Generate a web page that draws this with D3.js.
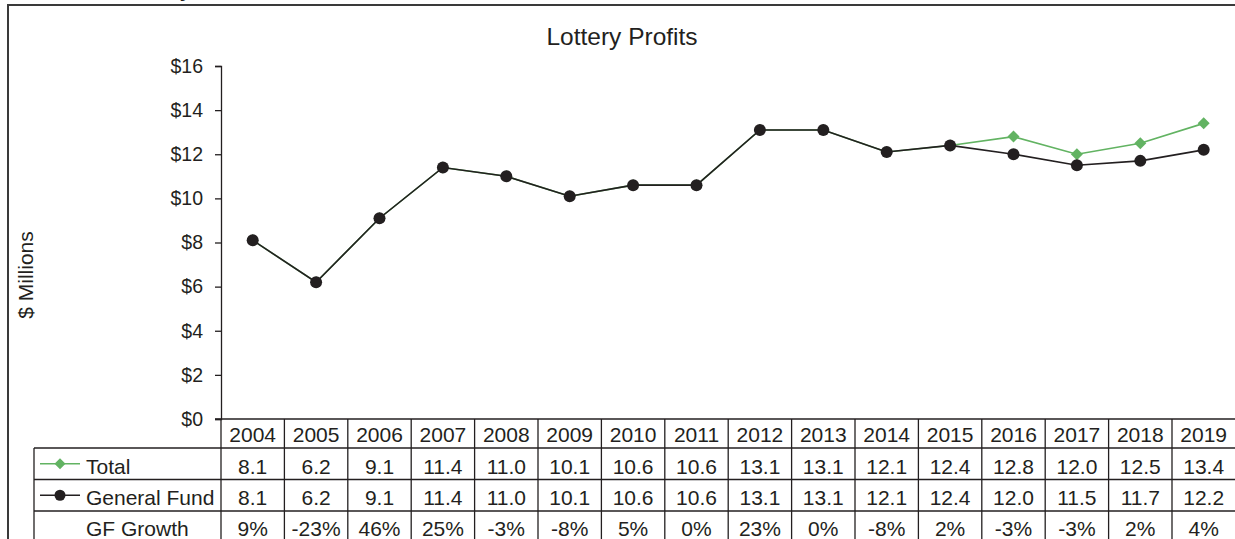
<!DOCTYPE html>
<html>
<head>
<meta charset="utf-8">
<script src="https://cdn.jsdelivr.net/npm/d3@7"></script>
<style>
  body { margin: 0; background: #fff; }
  text { font-family: "Liberation Sans", Arial, sans-serif; fill: #231f20; }
</style>
</head>
<body>
<div id="chart"></div>
<script>
const years = ["2004", "2005", "2006", "2007", "2008", "2009", "2010", "2011",
    "2012", "2013", "2014", "2015", "2016", "2017", "2018", "2019"];
const totalValues = [8.1, 6.2, 9.1, 11.4, 11.0, 10.1, 10.6, 10.6, 13.1, 13.1, 12.1, 12.4, 12.8, 12.0, 12.5, 13.4];
const generalFund = [8.1, 6.2, 9.1, 11.4, 11.0, 10.1, 10.6, 10.6, 13.1, 13.1, 12.1, 12.4, 12.0, 11.5, 11.7, 12.2];
const gfGrowth = ["9%", "-23%", "46%", "25%", "-3%", "-8%", "5%", "0%", "23%", "0%", "-8%", "2%", "-3%", "-3%", "2%", "4%"];
const yTicks = [0, 2, 4, 6, 8, 10, 12, 14, 16];

const W = 1235, H = 539;
const margin = { top: 66, left: 221 };
const plotBottom = 419;
const step = 63.4;
const green = "#62b362";
const dark = "#231f20";

const svg = d3.select("#chart")
    .append("svg")
    .attr("width", W)
    .attr("height", H);

// outer frame of the chart area
svg.append("path")
    .attr("d", `M8,${H + 5} V5 H${W + 5}`)
    .attr("fill", "none")
    .attr("stroke", "#3a3a3a")
    .attr("stroke-width", 2);

// heading of the page above, cut off at the top
svg.append("text")
    .attr("x", 191)
    .attr("y", -3)
    .attr("text-anchor", "end")
    .style("font-size", "20px")
    .style("font-weight", "bold")
    .text("Lottery");

svg.append("text")
    .attr("x", 622)
    .attr("y", 44.5)
    .attr("text-anchor", "middle")
    .style("font-size", "24.5px")
    .text("Lottery Profits");

const x = d3.scaleBand()
    .domain(years)
    .range([margin.left, margin.left + step * years.length]);

const y = d3.scaleLinear()
    .domain([0, 16])
    .range([plotBottom, margin.top]);

// Y axis
const yAxis = svg.append("g")
    .attr("transform", `translate(${margin.left},0)`)
    .call(d3.axisLeft(y).tickValues(yTicks).tickSize(6).tickPadding(12)
        .tickFormat(d => "$" + d));
yAxis.select(".domain").attr("stroke", dark).attr("stroke-width", 1.3);
yAxis.selectAll(".tick line").attr("stroke", dark).attr("stroke-width", 1.3);
yAxis.selectAll(".tick text")
    .style("font-size", "19.5px")
    .style("font-family", "'Liberation Sans', Arial, sans-serif")
    .attr("fill", dark);

svg.append("text")
    .attr("transform", "translate(33,275) rotate(-90)")
    .attr("text-anchor", "middle")
    .style("font-size", "21px")
    .text("$ Millions");

// x axis / table top line
svg.append("line")
    .attr("x1", margin.left - 6).attr("x2", W + 5)
    .attr("y1", plotBottom).attr("y2", plotBottom)
    .attr("stroke", dark).attr("stroke-width", 1.3);

// Lines
const line = d3.line()
    .x((d, i) => x(years[i]) + x.bandwidth() / 2)
    .y(d => y(d));

svg.append("path")
    .datum(totalValues)
    .attr("d", line)
    .attr("fill", "none")
    .attr("stroke", green)
    .attr("stroke-width", 1.6);

svg.selectAll(".total-pt")
    .data(totalValues)
    .enter()
    .append("path")
    .attr("class", "total-pt")
    .attr("transform", (d, i) => `translate(${x(years[i]) + x.bandwidth() / 2},${y(d)})`)
    .attr("d", "M0,-6L6,0L0,6L-6,0Z")
    .attr("fill", green);

svg.append("path")
    .datum(generalFund)
    .attr("d", line)
    .attr("fill", "none")
    .attr("stroke", dark)
    .attr("stroke-width", 1.6);

svg.selectAll(".gf-pt")
    .data(generalFund)
    .enter()
    .append("circle")
    .attr("class", "gf-pt")
    .attr("cx", (d, i) => x(years[i]) + x.bandwidth() / 2)
    .attr("cy", d => y(d))
    .attr("r", 6)
    .attr("fill", dark);

// Data table
const tableLeft = 34;
const rowTop = [plotBottom, 448, 479.5, 511];
const baselines = [442, 474, 504.5, 535.5];
const table = svg.append("g");

rowTop.slice(1).forEach(ry => {
    table.append("line")
        .attr("x1", tableLeft).attr("x2", W + 5)
        .attr("y1", ry).attr("y2", ry)
        .attr("stroke", dark).attr("stroke-width", 1.3);
});

table.append("line")
    .attr("x1", tableLeft).attr("x2", tableLeft)
    .attr("y1", rowTop[1]).attr("y2", H + 5)
    .attr("stroke", dark).attr("stroke-width", 1.3);

years.forEach(yr => {
    table.append("line")
        .attr("x1", x(yr)).attr("x2", x(yr))
        .attr("y1", plotBottom).attr("y2", H + 5)
        .attr("stroke", dark).attr("stroke-width", 1.3);
});

const rows = [years, totalValues.map(d => d.toFixed(1)), generalFund.map(d => d.toFixed(1)), gfGrowth];
rows.forEach((vals, r) => {
    table.selectAll(".cell-" + r)
        .data(vals)
        .enter()
        .append("text")
        .attr("x", (d, i) => x(years[i]) + x.bandwidth() / 2)
        .attr("y", baselines[r])
        .attr("text-anchor", "middle")
        .style("font-size", "21px")
        .text(d => d);
});

// legend keys
const key = table.append("g");
const keyY1 = (rowTop[1] + rowTop[2]) / 2;
const keyY2 = (rowTop[2] + rowTop[3]) / 2;
key.append("line")
    .attr("x1", 40).attr("x2", 80)
    .attr("y1", keyY1).attr("y2", keyY1)
    .attr("stroke", green).attr("stroke-width", 1.6);
key.append("path")
    .attr("transform", `translate(60,${keyY1})`)
    .attr("d", "M0,-5.5L5.5,0L0,5.5L-5.5,0Z")
    .attr("fill", green);
key.append("line")
    .attr("x1", 40).attr("x2", 80)
    .attr("y1", keyY2).attr("y2", keyY2)
    .attr("stroke", dark).attr("stroke-width", 1.6);
key.append("circle")
    .attr("cx", 60).attr("cy", keyY2).attr("r", 5.5)
    .attr("fill", dark);

[["Total", 1], ["General Fund", 2], ["GF Growth", 3]].forEach(([label, r]) => {
    key.append("text")
        .attr("x", 86)
        .attr("y", baselines[r])
        .style("font-size", "21px")
        .text(label);
});
</script>
</body>
</html>
